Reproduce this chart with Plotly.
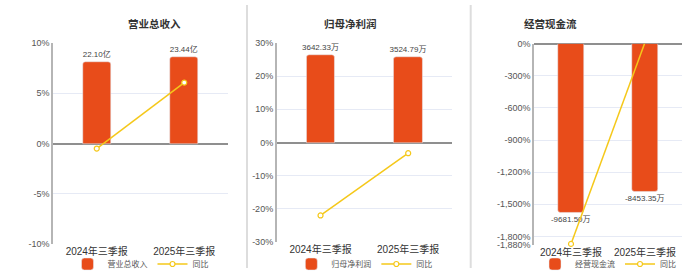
import plotly.graph_objects as go

categories = ["2024年三季报", "2025年三季报"]

titles = ["营业总收入", "归母净利润", "经营现金流"]

revenue = [22.10, 23.44]          # 亿
revenue_labels = ["22.10亿", "23.44亿"]
revenue_yoy = [-0.5, 6.06]        # %

profit = [3642.33, 3524.79]       # 万
profit_labels = ["3642.33万", "3524.79万"]
profit_yoy = [-22.0, -3.23]

cashflow = [-9681.50, -8453.35]   # 万
cashflow_labels = ["-9681.50万", "-8453.35万"]
cashflow_yoy = [-1870.0, 12.7]

pct_ticks_1 = [-10, -5, 0, 5, 10]
pct_ticks_2 = [-30, -20, -10, 0, 10, 20, 30]
pct_ticks_3 = [0, -300, -600, -900, -1200, -1500, -1800, -1880]

BAR = "#E84C1A"
LINE = "#F5C81A"
FONT = "Liberation Sans, Noto Sans CJK SC, sans-serif"

fig = go.Figure()

panels = [
    (revenue, revenue_labels, revenue_yoy, "营业总收入", 0.32),
    (profit, profit_labels, profit_yoy, "归母净利润", 0.32),
    (cashflow, cashflow_labels, cashflow_yoy, "经营现金流", 0.34),
]

for i, (vals, labels, yoy, name, w) in enumerate(panels):
    xa = "x" if i == 0 else f"x{i+1}"
    ybar = "y" if i == 0 else f"y{i+1}"
    ypct = f"y{i+4}"
    leg = "legend" if i == 0 else f"legend{i+1}"
    fig.add_trace(go.Bar(
        x=categories, y=vals, text=labels, textposition="outside",
        constraintext="none",
        textfont=dict(size=8, color="#444", family=FONT),
        marker=dict(color=BAR, cornerradius=3), width=w, name=name,
        xaxis=xa, yaxis=ybar, legend=leg, cliponaxis=False,
    ))
    fig.add_trace(go.Scatter(
        x=categories, y=yoy, mode="lines+markers", name="同比",
        line=dict(color=LINE, width=1.5),
        marker=dict(symbol="circle", size=5, color="white",
                    line=dict(color=LINE, width=1.2)),
        xaxis=xa, yaxis=ypct, legend=leg, cliponaxis=False,
    ))

xdomains = [(53/700, 228/700), (276.7/700, 452/700), (534/700, 682/700)]
ydomains = [((272-244)/272, (272-43)/272), ((272-242)/272, (272-43)/272),
            ((272-245)/272, (272-43.7)/272)]
bar_ranges = [[-27.2, 27.2], [-4120, 4120], [-11530, 0]]
pct_cfg = [
    dict(range=[-10, 10], tickvals=pct_ticks_1),
    dict(range=[-30, 30], tickvals=pct_ticks_2),
    dict(range=[-1880, 0], tickvals=pct_ticks_3),
]

layout = dict(
    width=700, height=272, margin=dict(l=0, r=0, t=0, b=0, autoexpand=False),
    paper_bgcolor="white", plot_bgcolor="white",
    font=dict(family=FONT, color="#555"),
    showlegend=True, bargap=0,
)

for i in range(3):
    xk = "xaxis" if i == 0 else f"xaxis{i+1}"
    yk = "yaxis" if i == 0 else f"yaxis{i+1}"
    pk = f"yaxis{i+4}"
    xa = "x" if i == 0 else f"x{i+1}"
    ybar = "y" if i == 0 else f"y{i+1}"
    layout[xk] = dict(
        domain=list(xdomains[i]), anchor=ybar, type="category",
        range=[-0.5, 1.5], showline=False, showgrid=False, ticks="",
        tickfont=dict(size=10, color="#333", family=FONT), fixedrange=True,
        automargin=False,
    )
    layout[yk] = dict(domain=list(ydomains[i]), anchor=xa, range=bar_ranges[i],
                      visible=False, showgrid=False, zeroline=False)
    tv = pct_cfg[i]["tickvals"]
    layout[pk] = dict(
        overlaying=ybar, anchor=xa, side="left", range=pct_cfg[i]["range"],
        tickmode="array", tickvals=tv,
        ticktext=[f"{v:,}%" for v in tv],
        showgrid=True, gridcolor="#e6eaf5", gridwidth=1,
        zeroline=True, zerolinecolor="#8f8f8f", zerolinewidth=1.5,
        showline=True, linecolor="#b5b5b5", linewidth=1.5,
        ticks="", tickfont=dict(size=9, color="#555", family=FONT),
        automargin=False,
    )
    lk = "legend" if i == 0 else f"legend{i+1}"
    layout[lk] = dict(
        orientation="h", x=sum(xdomains[i]) / 2, xanchor="center",
        y=(272-264)/272, yanchor="middle", font=dict(size=8, color="#555"),
        bgcolor="rgba(0,0,0,0)", itemwidth=30, tracegroupgap=0,
    )

fig.update_layout(**layout)

title_x = [126, 350, 579]
for t, xpx in zip(titles, title_x):
    fig.add_annotation(text=f"<b>{t}</b>", x=xpx/700, y=(272-14)/272,
                       xref="paper", yref="paper", showarrow=False,
                       font=dict(size=10.5, color="#333", family="Noto Sans CJK SC"))

for xpx in [247, 470.7]:
    fig.add_shape(type="line", xref="paper", yref="paper",
                  x0=xpx/700, x1=xpx/700, y0=4/272, y1=(272-5)/272,
                  line=dict(color="#dddddd", width=2))

fig.write_html("out.html")
